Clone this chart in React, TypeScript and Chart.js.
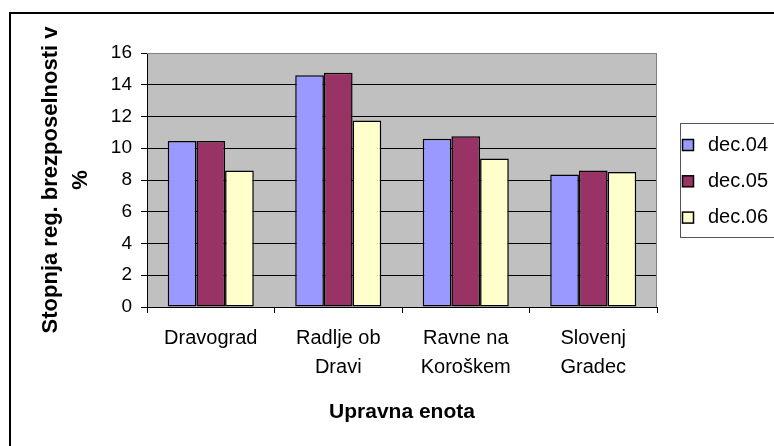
import React, { useEffect, useRef } from "react";
import { Chart, registerables } from "chart.js";

Chart.register(...registerables);

const categories: (string | string[])[] = [
  "Dravograd",
  ["Radlje ob", "Dravi"],
  ["Ravne na", "Koroškem"],
  ["Slovenj", "Gradec"],
];
const seriesLabels = ["dec.04", "dec.05", "dec.06"];
const dec04 = [10.45, 14.6, 10.6, 8.35];
const dec05 = [10.45, 14.75, 10.75, 8.6];
const dec06 = [8.6, 11.75, 9.35, 8.5];
const seriesColors = ["#9999FF", "#993366", "#FFFFCC"];
const yMin = 0;
const yMax = 16;
const yStep = 2;
const xTitle = "Upravna enota";
const yTitle = ["Stopnja reg. brezposelnosti v", "%"];

const FONT = "'Liberation Sans', Arial, Helvetica, sans-serif";

const decorPlugin = {
  id: "decor",
  beforeDraw(chart: any) {
    const { ctx, chartArea } = chart;
    ctx.save();
    ctx.fillStyle = "#ffffff";
    ctx.fillRect(0, 0, chart.width, chart.height);
    ctx.fillStyle = "#C0C0C0";
    ctx.fillRect(chartArea.left, chartArea.top, chartArea.right - chartArea.left, chartArea.bottom - chartArea.top);
    ctx.restore();
  },
  beforeDatasetsDraw(chart: any) {
    const { ctx, chartArea } = chart;
    ctx.save();
    ctx.strokeStyle = "#808080";
    ctx.lineWidth = 1;
    ctx.beginPath();
    ctx.moveTo(chartArea.left, chartArea.top + 0.5);
    ctx.lineTo(chartArea.right - 0.5, chartArea.top + 0.5);
    ctx.lineTo(chartArea.right - 0.5, chartArea.bottom);
    ctx.stroke();
    ctx.restore();
  },
  afterDraw(chart: any) {
    const { ctx } = chart;
    ctx.save();
    // outer chart frame (top and left visible)
    ctx.fillStyle = "#000";
    ctx.fillRect(9, 12, 2, chart.height - 12);
    ctx.fillRect(9, 12, chart.width - 9, 2);
    // legend
    const lx = 680;
    const ly = 123;
    const lh = 114;
    ctx.strokeStyle = "#555555";
    ctx.lineWidth = 1;
    ctx.strokeRect(lx + 0.5, ly + 0.5, chart.width, lh);
    ctx.font = `20px ${FONT}`;
    ctx.textBaseline = "middle";
    ctx.textAlign = "left";
    chart.data.datasets.forEach((ds: any, i: number) => {
      const cy = 145 + i * 36.3;
      ctx.fillStyle = ds.backgroundColor;
      ctx.fillRect(682.5, cy - 5.5, 11, 11);
      ctx.strokeStyle = "#000";
      ctx.lineWidth = 1.5;
      ctx.strokeRect(682.5, cy - 5.5, 11, 11);
      ctx.fillStyle = "#000";
      ctx.fillText(ds.label, 708, cy);
    });
    ctx.restore();
  },
};

export default function App() {
  const ref = useRef<HTMLCanvasElement>(null);
  useEffect(() => {
    document.body.style.margin = "0";
    const values = [dec04, dec05, dec06];
    const chart = new Chart(ref.current!, {
      type: "bar",
      data: {
        labels: categories,
        datasets: seriesLabels.map((label, i) => ({
          label,
          data: values[i],
          backgroundColor: seriesColors[i],
          borderColor: "#000",
          borderWidth: 1.5,
          borderSkipped: false,
          barPercentage: 1,
          categoryPercentage: 0.675,
        })),
      },
      options: {
        animation: false,
        responsive: false,
        devicePixelRatio: 1,
        layout: { padding: { top: 53, right: 117, left: 0, bottom: 0 } },
        plugins: {
          legend: { display: false },
          tooltip: { enabled: false },
        },
        scales: {
          x: {
            offset: true,
            grid: {
              offset: true,
              drawOnChartArea: false,
              tickLength: 6,
              tickColor: "#000",
            },
            border: { color: "#000", width: 1 },
            ticks: {
              color: "#000",
              font: { family: FONT, size: 20, lineHeight: 1.45 },
              maxRotation: 0,
              autoSkip: false,
              padding: 10.5,
            },
            title: {
              display: true,
              text: xTitle,
              color: "#000",
              font: { family: FONT, size: 21, weight: "bold", lineHeight: 1.2 },
              padding: { top: 0, bottom: 21.5 },
            },
            afterFit(scale: any) {
              scale.height = 139;
            },
          },
          y: {
            min: yMin,
            max: yMax,
            ticks: {
              stepSize: yStep,
              color: "#000",
              font: { family: FONT, size: 19 },
              padding: 9,
            },
            grid: {
              color: (c: any) => (c.tick && c.tick.value === yMax ? "#808080" : "#000"),
              tickColor: "#000",
              tickLength: 6,
              lineWidth: 1,
            },
            border: { color: "#000", width: 1 },
            title: {
              display: true,
              text: yTitle,
              color: "#000",
              font: { family: FONT, size: 22, weight: "bold", lineHeight: 1.38 },
              padding: { top: 35.8, bottom: 0 },
            },
            afterFit(scale: any) {
              scale.width = 147;
            },
          },
        },
      },
      plugins: [decorPlugin],
    });
    return () => chart.destroy();
  }, []);
  return (
    <div style={{ position: "absolute", left: 0, top: 0, width: 774, height: 446 }}>
      <canvas ref={ref} width={774} height={446} style={{ display: "block" }} />
    </div>
  );
}
